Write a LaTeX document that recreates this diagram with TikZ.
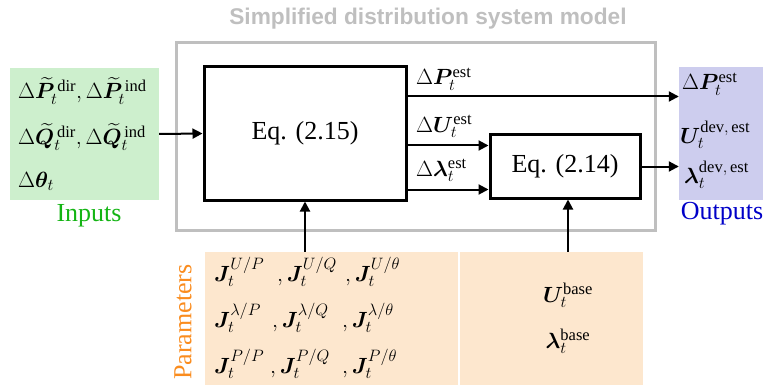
\RequirePackage{fix-cm}
\documentclass[tikz,border=0pt]{standalone}
\usepackage{amsmath}
\usepackage{bm}
\usepackage{fontspec}
\setmainfont{Liberation Serif}
\newfontfamily\titlefont{Liberation Sans}
\usetikzlibrary{arrows.meta}
\DeclareMathSizes{22}{22}{16.5}{12}
\definecolor{sysgray}{RGB}{191,191,191}
\definecolor{ingreen}{RGB}{205,239,205}
\definecolor{inlabel}{RGB}{20,180,20}
\definecolor{outviolet}{RGB}{205,205,238}
\definecolor{outlabel}{RGB}{0,0,200}
\definecolor{parpeach}{RGB}{253,231,206}
\definecolor{parlabel}{RGB}{250,140,30}
\tikzset{
  eqbox/.style={draw=black, line width=3pt, inner sep=0pt, font=\fontsize{26}{30}\selectfont},
  fillbox/.style={inner sep=0pt, draw=none},
  mathlbl/.style={inner sep=0pt, font=\fontsize{22}{26}\selectfont},
  bigtxt/.style={inner sep=0pt, font=\fontsize{26}{30}\selectfont},
  arr/.style={line width=2pt, -{Triangle[length=10pt,width=10pt]}},
}
\begin{document}
\begin{tikzpicture}[x=1pt,y=-1pt]
\useasboundingbox (0,0) rectangle (763,385);
% title and system box
\node[inner sep=0pt, text=sysgray, font=\titlefont\bfseries\fontsize{22.7}{26}\selectfont] (title) at (428,19) {Simplified distribution system model};
\node[draw=sysgray, line width=3pt, minimum width=479pt, minimum height=187pt, inner sep=0pt] (sys) at (415.5,136.5) {};
% coloured boxes
\node[fillbox, fill=ingreen, minimum width=149pt, minimum height=132pt] (inp) at (84.5,134) {};
\node[fillbox, fill=outviolet, minimum width=84pt, minimum height=133pt] (out) at (721,133.5) {};
\node[fillbox, fill=parpeach, minimum width=253pt, minimum height=133pt] (par1) at (331.5,318.5) {};
\node[fillbox, fill=parpeach, minimum width=183pt, minimum height=133pt] (par2) at (551.5,318.5) {};
% equation boxes
\node[eqbox, minimum width=202pt, minimum height=133pt] (eq15) at (305,133.5) {Eq. (2.15)};
\node[eqbox, minimum width=150pt, minimum height=63pt] (eq14) at (565,166.5) {Eq. (2.14)};
% input texts
\node[mathlbl, anchor=base west] (in1) at (18,99) {$\Delta\widetilde{\bm P}_t^{\,\mathrm{dir}},\Delta\widetilde{\bm P}_t^{\,\mathrm{ind}}$};
\node[mathlbl, anchor=base west] (in2) at (18,145) {$\Delta\widetilde{\bm Q}_t^{\,\mathrm{dir}},\Delta\widetilde{\bm Q}_t^{\,\mathrm{ind}}$};
\node[mathlbl, anchor=base west] (in3) at (18,187) {$\Delta\bm\theta_t$};
\node[bigtxt, text=inlabel] (inl) at (89,216) {Inputs};
% output texts
\node[mathlbl, anchor=base west] (o1) at (682,90) {$\Delta\bm P_t^{\mathrm{est}}$};
\node[mathlbl, anchor=base west] (o2) at (680,143) {$\bm U_t^{\mathrm{dev,\,est}}$};
\node[mathlbl, anchor=base west] (o3) at (684,183) {$\bm\lambda_t^{\mathrm{dev,\,est}}$};
\node[bigtxt, text=outlabel] (outl) at (722,214) {Outputs};
% parameters texts
\node[bigtxt, text=parlabel, rotate=90] (parl) at (183,322) {Parameters};
\node[mathlbl, anchor=base west] (j11) at (214,281) {$\bm J_t^{U/P}$};
\node[mathlbl, anchor=base west] (j12) at (277,281) {$,\bm J_t^{U/Q}$};
\node[mathlbl, anchor=base west] (j13) at (345,281) {$,\bm J_t^{U/\theta}$};
\node[mathlbl, anchor=base west] (j21) at (214,327) {$\bm J_t^{\lambda/P}$};
\node[mathlbl, anchor=base west] (j22) at (272,327) {$,\bm J_t^{\lambda/Q}$};
\node[mathlbl, anchor=base west] (j23) at (342,327) {$,\bm J_t^{\lambda/\theta}$};
\node[mathlbl, anchor=base west] (j31) at (214,373) {$\bm J_t^{P/P}$};
\node[mathlbl, anchor=base west] (j32) at (270,373) {$,\bm J_t^{P/Q}$};
\node[mathlbl, anchor=base west] (j33) at (342,373) {$,\bm J_t^{P/\theta}$};
\node[mathlbl, anchor=base] (ub) at (568,302) {$\bm U_t^{\mathrm{base}}$};
\node[mathlbl, anchor=base] (lb) at (568,348) {$\bm\lambda_t^{\mathrm{base}}$};
% arrow labels
\node[mathlbl, anchor=base west] (lp) at (416,85) {$\Delta\bm P_t^{\mathrm{est}}$};
\node[mathlbl, anchor=base west] (lu) at (416,132) {$\Delta\bm U_t^{\mathrm{est}}$};
\node[mathlbl, anchor=base west] (ll) at (416,176) {$\Delta\bm\lambda_t^{\mathrm{est}}$};
% connectors
\coordinate (pa) at ([yshift=-31pt]eq15.north east);
\coordinate (ua) at ([yshift=-12pt]eq14.north west);
\coordinate (la) at ([yshift=10pt]eq14.south west);
\draw[arr] (inp.east) -- (eq15.west);
\draw[arr] (pa) -- (pa -| out.west);
\draw[arr] (eq15.east |- ua) -- (ua);
\draw[arr] (eq15.east |- la) -- (la);
\draw[arr] (eq14.east) -- (eq14.east -| out.west);
\draw[arr] (eq15.south |- par1.north) -- (eq15.south);
\draw[arr] ([xshift=3pt]eq14.south |- par2.north) -- ([xshift=3pt]eq14.south);
\end{tikzpicture}
\end{document}
